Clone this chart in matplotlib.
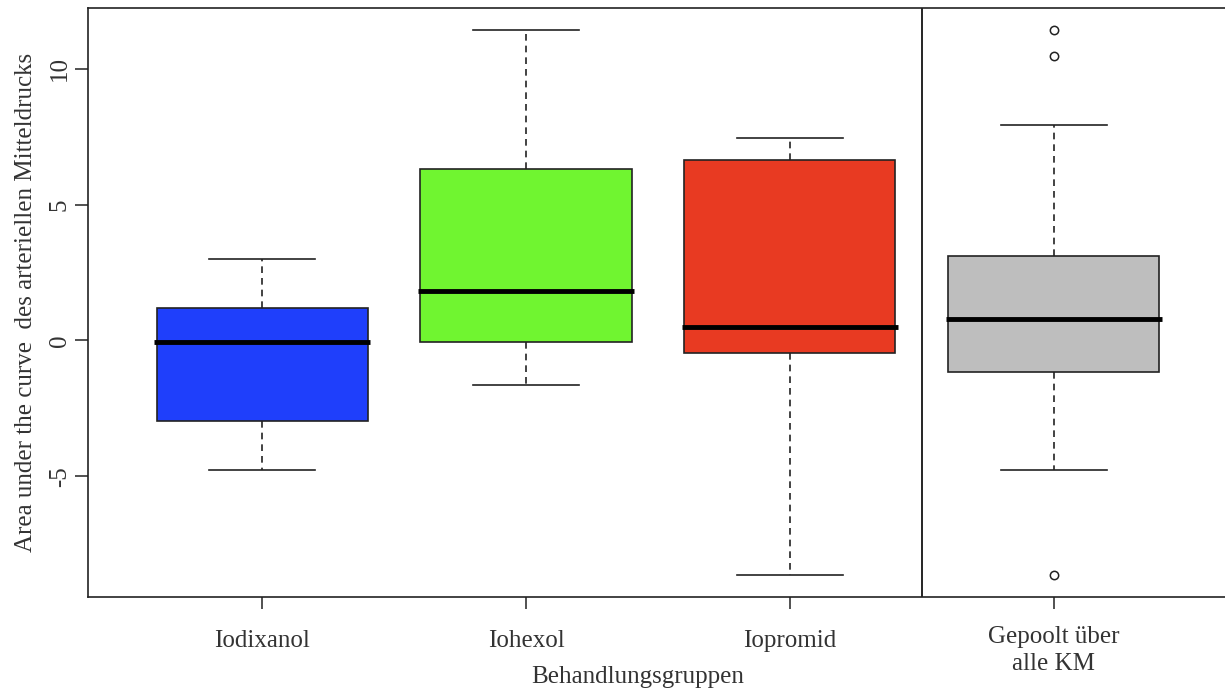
import matplotlib
matplotlib.use("Agg")
import matplotlib.pyplot as plt
from matplotlib.transforms import ScaledTranslation

plt.rcParams['font.family'] = ['Liberation Serif', 'DejaVu Serif']

# Kennwerte der Boxplots je Behandlungsgruppe
gruppen = ['Iodixanol', 'Iohexol', 'Iopromid', 'Gepoolt über\nalle KM']
whisker_unten = [-4.78, -1.65, -8.64, -4.78]
q1 = [-2.98, -0.07, -0.48, -1.18]
median = [-0.07, 1.80, 0.51, 0.77]
q3 = [1.21, 6.29, 6.65, 3.09]
whisker_oben = [2.98, 11.43, 7.43, 7.94]
ausreisser = [[], [], [], [11.43, 10.48, -8.64]]
farben = ['#1f3ffb', '#70f530', '#e83a22', '#bebebe']

stats = []
for i in range(len(gruppen)):
    stats.append({
        'label': gruppen[i],
        'whislo': whisker_unten[i], 'q1': q1[i], 'med': median[i],
        'q3': q3[i], 'whishi': whisker_oben[i], 'fliers': ausreisser[i],
    })

fig = plt.figure(figsize=(12.25, 6.91), dpi=100)
ax = fig.add_axes([88 / 1225, 94 / 691, 1140 / 1225, 589 / 691])

bp = ax.bxp(stats, positions=[1, 2, 3, 4], widths=0.8, patch_artist=True,
            showfliers=True,
            boxprops=dict(edgecolor='#222222', linewidth=1.2),
            medianprops=dict(color='black', linewidth=3.5, solid_capstyle='butt'),
            whiskerprops=dict(color='#222222', linewidth=1.2, linestyle=(0, (4, 3))),
            capprops=dict(color='#222222', linewidth=1.2),
            flierprops=dict(marker='o', markersize=6, markerfacecolor='none',
                            markeredgecolor='#222222', markeredgewidth=1.1))
for patch, farbe in zip(bp['boxes'], farben):
    patch.set_facecolor(farbe)

# Kappen auf halbe Boxbreite, Median etwas breiter als die Box
for cap in bp['caps']:
    x = cap.get_xdata()
    mitte = (x[0] + x[1]) / 2
    cap.set_xdata([mitte - 0.2, mitte + 0.2])
for med in bp['medians']:
    x = med.get_xdata()
    mitte = (x[0] + x[1]) / 2
    med.set_xdata([mitte - 0.41, mitte + 0.41])

# Trennlinie zur gepoolten Gruppe
ax.axvline(3.5, color='black', linewidth=1.2)

ax.set_xlim(0.34, 4.66)
ax.set_ylim(-9.44, 12.23)
ax.set_yticks([-5, 0, 5, 10])
ax.set_yticklabels(['-5', '0', '5', '10'], rotation=90, va='center')
ax.tick_params(axis='both', direction='out', width=1.1,
               labelsize=18, colors='#222222', labelcolor='#333333')
ax.tick_params(axis='x', length=8.5, pad=15)
ax.tick_params(axis='y', length=9.5, pad=3)

# zweizeiliges Label etwas höher und mit mehr Zeilenabstand
letztes = ax.get_xticklabels()[-1]
letztes.set_linespacing(1.3)
letztes.set_transform(letztes.get_transform() +
                      ScaledTranslation(0, 4 / 100, fig.dpi_scale_trans))

for s in ax.spines.values():
    s.set_linewidth(1.2)
    s.set_color('#222222')

ax.set_xlabel('Behandlungsgruppen', fontsize=18, color='#333333')
ax.xaxis.set_label_coords(0.482, -0.146)
ax.xaxis.label.set_verticalalignment('baseline')
ax.set_ylabel('Area under the curve  des arteriellen Mitteldrucks',
              fontsize=18, color='#333333')
ax.yaxis.set_label_coords(-0.045, 0.5)

fig.savefig('out.png', dpi=100)
